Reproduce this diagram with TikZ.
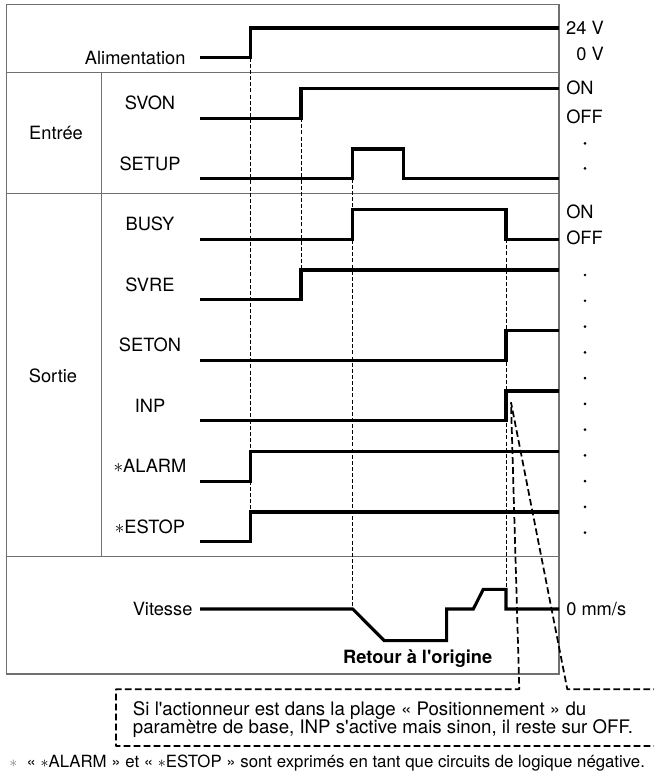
\documentclass[tikz,border=0pt]{standalone}
\usepackage{fontspec}
\setmainfont{TeX Gyre Heros}[Ligatures=TeXOff]
\usetikzlibrary{positioning,calc}
\definecolor{frmgray}{RGB}{112,112,112}
\tikzset{
  sig/.style={black, line width=2.3pt, line join=miter},
  frm/.style={frmgray, line width=0.9pt},
  grd/.style={black, line width=0.7pt, dash pattern=on 3pt off 1.6pt},
  clo/.style={black, line width=1.3pt, dash pattern=on 5pt off 2.5pt, line join=bevel},
  slab/.style={font=\fontsize{13.7}{16}\selectfont, inner sep=0pt},
  rlab/.style={font=\fontsize{13.7}{16}\selectfont, inner sep=0pt, anchor=west},
  nlab/.style={font=\fontsize{14}{16}\selectfont, inner sep=0pt, anchor=base west},
  flab/.style={font=\fontsize{12.6}{15}\selectfont, inner sep=0pt, anchor=base west},
  dotm/.style={circle, fill=black, inner sep=0pt, minimum size=2.2pt},
}

\begin{document}
\begin{tikzpicture}[x=0.75pt, y=-0.75pt]
 \useasboundingbox (0,0) rectangle (653,774);
 \draw[frm] (6.7,4.3) rectangle (559,674);
 \foreach \yy in {72.7,193.3,556.7} \draw[frm] (6.7,\yy) -- (559,\yy);
 \draw[frm] (101.7,72.7) -- (101.7,556.7);
 \node[slab] (entree) at (56,133) {Entrée};
 \node[slab] (sortie) at (53,376) {Sortie};

 \draw[grd] (250.7,57.7) -- (250.7,541.7);
 \draw[grd] (301,118.2) -- (301,270);
 \draw[grd] (352.7,178.7) -- (352.7,609);
 \draw[grd] (506,239.2) -- (506,589.3);

 \coordinate (a0) at (200,57.7);
 \draw[sig] (a0) -- (250.7,57.7) -- (250.7,28) -- (559,28);
 \node[slab, left=10.7pt of a0] (alim) {Alimentation};
 \foreach \k/\tx/\nm in {1/301/SVON, 4/301/SVRE, 5/506/SETON, 6/506/INP,
                         7/250.7/{$\ast$ALARM}, 8/250.7/{$\ast$ESTOP}}{
   \pgfmathsetmacro{\lo}{57.7+60.5*\k}
   \pgfmathsetmacro{\hi}{\lo-29.7}
   \draw[sig] (200,\lo) -- (\tx,\lo) -- (\tx,\hi) -- (559,\hi);
   \node[slab] (s\k) at (150,\lo-15) {\nm};
 }
 \draw[sig] (200,178.7) -- (352.7,178.7) -- (352.7,149) -- (403.5,149) -- (403.5,178.7) -- (559,178.7);
 \node[slab] (s2) at (150,163.7) {SETUP};
 \draw[sig] (200,239.2) -- (352.7,239.2) -- (352.7,209.5) -- (506,209.5) -- (506,239.2) -- (559,239.2);
 \node[slab] (s3) at (150,224.2) {BUSY};

 \coordinate (v0) at (200,609);
 \draw[sig] (v0) -- (352.7,609) -- (384.3,640.7) -- (446.7,640.7) -- (446.7,609) -- (473.3,609)
            -- (483.3,589.3) -- (506,589.3) -- (506,609) -- (559,609);
 \node[slab, left=5.5pt of v0] (vit) {Vitesse};
 \node[slab, anchor=base, font=\fontsize{13.7}{16}\selectfont\bfseries] (retour) at (417.7,663.3) {Retour à l'origine};

 \node[rlab, anchor=east] (v24) at (604,28.3) {24 V};
 \node[rlab, anchor=east] (v00) at (604,54.3) {0 V};
 \node[rlab] (on1) at (566,88.3) {ON};
 \node[rlab] (off1) at (566,116.7) {OFF};
 \node[rlab] (on2) at (566,211.7) {ON};
 \node[rlab] (off2) at (566,238.3) {OFF};
 \node[rlab, anchor=base west] (mms) at (566,615.3) {0 mm/s};
 \foreach \yy in {143.3,168.3} \node[dotm] at (585,\yy) {};
 \foreach \i in {0,...,10} \node[dotm] at (585,275+25.77*\i) {};

 \coordinate (cp) at (511,402.3);
 \coordinate (ca) at (519.3,689.3);
 \coordinate (cb) at (567.3,689.3);
 \draw[clo] (660,689.3) -- (cb) -- (cp) -- (ca) -- (116,689.3) -- (116,746) -- (660,746);
 \node[nlab] (note1) at (132.7,715) {Si l'actionneur est dans la plage « Positionnement » du};
 \node[nlab] (note2) at (132.7,733) {paramètre de base, INP s'active mais sinon, il reste sur OFF.};
 \node[flab] (foot) at (9,767) {{\color{gray}$\ast$}\ \ « $\ast$ALARM » et « $\ast$ESTOP » sont exprimés en tant que circuits de logique négative.};
\end{tikzpicture}
\end{document}
